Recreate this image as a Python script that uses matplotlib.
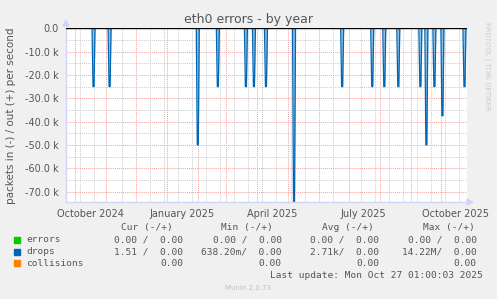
import numpy as np
import matplotlib
matplotlib.use('Agg')
import matplotlib.pyplot as plt
import matplotlib.dates as mdates
from matplotlib.patches import Rectangle, Polygon

# time window of the munin "year" graph
start = np.datetime64('2024-09-22T01:00')
end = np.datetime64('2025-10-27T01:00')

# drops (in) spikes
spike_dates = ['2024-10-19', '2024-11-04', '2025-01-31', '2025-02-20', '2025-03-20',
               '2025-03-28', '2025-04-09', '2025-05-07', '2025-06-24', '2025-07-24',
               '2025-08-05', '2025-08-19', '2025-09-10', '2025-09-16', '2025-09-24',
               '2025-10-02', '2025-10-24']
spike_values = [-25000, -25000, -50000, -25000, -25000,
                -25000, -25000, -74500, -25000, -25000,
                -25000, -25000, -25000, -50000, -25000,
                -37500, -25000]

ytick_vals = [0, -10000, -20000, -30000, -40000, -50000, -60000, -70000]
ytick_labels = ['0.0', '-10.0 k', '-20.0 k', '-30.0 k', '-40.0 k', '-50.0 k', '-60.0 k', '-70.0 k']
xlabel_months = ['2024-10-01', '2025-01-01', '2025-04-01', '2025-07-01', '2025-10-01']
xlabel_texts = ['October 2024', 'January 2025', 'April 2025', 'July 2025', 'October 2025']

legend_names = ['errors', 'drops', 'collisions']
legend_colors = ['#00cc00', '#0066b3', '#ff8000']
cur_vals = ['0.00 /  0.00', '1.51 /  0.00', '0.00']
min_vals = ['0.00 /  0.00', '638.20m/  0.00', '0.00']
avg_vals = ['0.00 /  0.00', '2.71k/  0.00', '0.00']
max_vals = ['0.00 /  0.00', '14.22M/  0.00', '0.00']

W, H = 497, 299
def fx(x):
    return x / W
def fy(y):
    return 1 - y / H

fig = plt.figure(figsize=(W / 100, H / 100), dpi=100, facecolor='#f0f0f0')
ax = fig.add_axes([fx(66), fy(202), 401 / W, (202 - 28.3) / H], facecolor='white')

day = np.timedelta64(1, 'D')
xs = [start]
ys = [0]
for d, v in zip(spike_dates, spike_values):
    d = np.datetime64(d + 'T00:00')
    xs += [d - day, d, d + day, d + 2 * day]
    ys += [0, v, v, 0]
xs.append(end)
ys.append(0)
xn = mdates.date2num(np.array(xs, dtype='datetime64[m]'))
ax.fill_between(xn, ys, 0, color='#8dbde3', lw=0)
ax.plot(xn, ys, color='#0066b3', lw=0.9)

# grid: grey minor every 2 weeks, red major at month start
months = np.arange(np.datetime64('2024-10'), np.datetime64('2025-11'), dtype='datetime64[M]')
month_nums = mdates.date2num(months.astype('datetime64[m]'))
minor = np.arange(np.datetime64('2024-10-06'), np.datetime64('2025-10-27'), np.timedelta64(14, 'D'))
for m in mdates.date2num(minor.astype('datetime64[m]')):
    if np.min(np.abs(month_nums - m)) > 2.5:
        ax.axvline(m, color='#cccccc', lw=0.7, ls=(0, (1, 1)), zorder=0)
for m in month_nums:
    ax.axvline(m, color='#f0a0a0', lw=0.7, ls=(0, (1, 1)), zorder=0)
for yv in np.arange(-75000, 0, 5000):
    if yv % 10000 == 0:
        ax.axhline(yv, color='#f0a0a0', lw=0.7, ls=(0, (1, 1)), zorder=0)
    else:
        ax.axhline(yv, color='#cccccc', lw=0.7, ls=(0, (1, 1)), zorder=0)
ax.axhline(0, color='black', lw=1.0, zorder=5)

ax.set_xlim(mdates.date2num(start), mdates.date2num(end))
ax.set_ylim(-74500, 0)
ax.set_yticks(ytick_vals)
ax.set_yticklabels(ytick_labels)
lab_pos = mdates.date2num(np.array(xlabel_months, dtype='datetime64[D]').astype('datetime64[m]')) + 15
ax.set_xticks(lab_pos)
ax.set_xticklabels(xlabel_texts)
ax.tick_params(axis='both', length=0, labelsize=7, colors='#555555')
ax.tick_params(axis='y', pad=5)
ax.tick_params(axis='x', pad=5)
for s in ['top', 'right']:
    ax.spines[s].set_visible(False)
for s in ['left', 'bottom']:
    ax.spines[s].set_color('#cfd6f8')
    ax.spines[s].set_linewidth(1)

# axis arrows
fig.add_artist(Polygon([(fx(63), fy(26)), (fx(69), fy(26)), (fx(66), fy(20))],
                       closed=True, color='#cfd6f8', transform=fig.transFigure))
fig.add_artist(Polygon([(fx(467), fy(199)), (fx(467), fy(205)), (fx(473), fy(202))],
                       closed=True, color='#cfd6f8', transform=fig.transFigure))

fig.text(fx(248), fy(19), 'eth0 errors - by year', ha='center', va='center',
         fontsize=9, color='#555555')
fig.text(fx(11), fy(116), 'packets in (-) / out (+) per second', rotation=90,
         ha='center', va='center', fontsize=7.5, color='#555555')
fig.text(fx(487), fy(66), 'RRDTOOL / TOBI OETIKER', rotation=270,
         ha='center', va='center', fontsize=5, color='#cccccc')

# legend table
mono = 'DejaVu Sans Mono'
fs = 6.8
tc = '#555555'
headers = ['Cur (-/+)', 'Min (-/+)', 'Avg (-/+)', 'Max (-/+)']
head_x = [120.7, 221, 322, 423]
for hx, h in zip(head_x, headers):
    fig.text(fx(hx), fy(227.3), h, family=mono, fontsize=fs, color=tc, ha='left', va='center')
col_right = [183.3, 281.7, 379, 476.7]
row_y = [239.7, 251.7, 263.3]
for i, name in enumerate(legend_names):
    y = row_y[i]
    fig.add_artist(Rectangle((fx(14), fy(y + 3)), 6 / W, 6 / H, color=legend_colors[i],
                             transform=fig.transFigure))
    fig.text(fx(26), fy(y), name, family=mono, fontsize=fs, color=tc, ha='left', va='center')
    for cx, col in zip(col_right, [cur_vals, min_vals, avg_vals, max_vals]):
        fig.text(fx(cx), fy(y), col[i], family=mono, fontsize=fs, color=tc,
                 ha='right', va='center')
fig.text(fx(482.3), fy(275.3), 'Last update: Mon Oct 27 01:00:03 2025', family=mono,
         fontsize=fs, color=tc, ha='right', va='center')
fig.text(fx(248), fy(288.3), 'Munin 2.0.73', fontsize=5, color='#c0c0c0',
         ha='center', va='center')

fig.savefig('out.png', dpi=100, facecolor=fig.get_facecolor())
